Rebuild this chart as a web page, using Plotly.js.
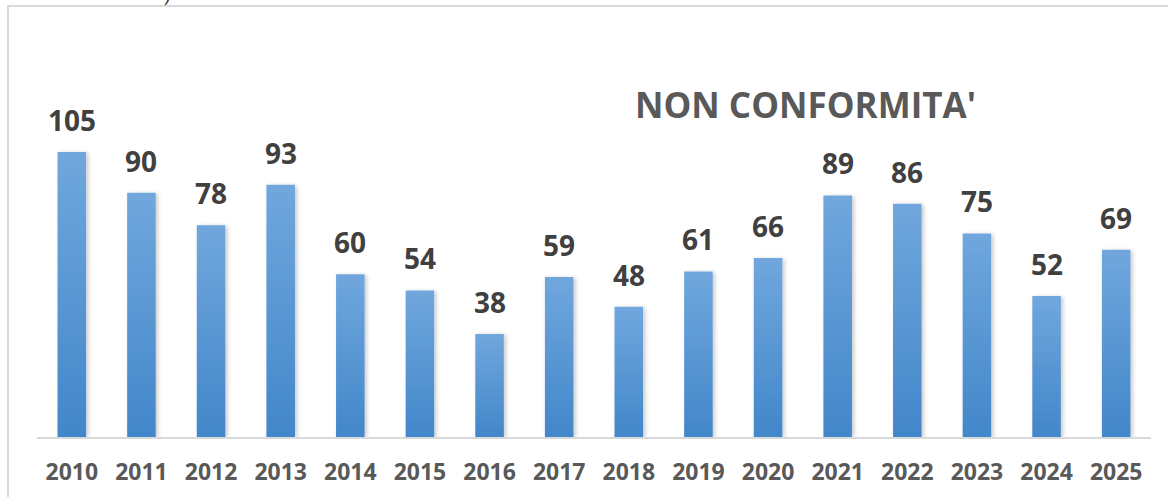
<!DOCTYPE html>
<html>
<head>
<meta charset="utf-8">
<script src="https://cdn.plot.ly/plotly-3.0.1.min.js"></script>
<style>
  html, body { margin: 0; padding: 0; background: #ffffff; }
  #wrap { position: relative; width: 1168px; height: 497px; overflow: hidden; }
  #frame { position: absolute; left: 7px; top: 5px; right: -4px; bottom: -4px;
           border-left: 2px solid #d9d9d9; border-top: 2px solid #d9d9d9; pointer-events: none; }
  #chart { position: absolute; left: 0; top: 0; width: 1168px; height: 497px; }
</style>
</head>
<body>
<div id="wrap">
  <div id="chart"></div>
  <div id="frame"></div>
</div>
<script>
const years = ["2010","2011","2012","2013","2014","2015","2016","2017","2018","2019","2020","2021","2022","2023","2024","2025"];
const values = [105, 90, 78, 93, 60, 54, 38, 59, 48, 61, 66, 89, 86, 75, 52, 69];
const chartTitle = "NON CONFORMITA'";
const cutText = ")";

const trace = {
  type: 'bar',
  x: years,
  y: values,
  marker: { color: '#5a9ad6', line: { width: 0 } },
  hoverinfo: 'x+y'
};

// category index positions (numeric-looking strings would be read as indices)
const annotations = years.map((yr, i) => ({
  x: i, y: values[i], xref: 'x', yref: 'y',
  text: String(values[i]),
  showarrow: false, yanchor: 'bottom', yshift: 11,
  font: { family: 'Open Sans, sans-serif', size: 28, color: '#404040', weight: 'bold' }
}));

annotations.push({
  xref: 'paper', yref: 'paper', x: 0.69, y: 1.0, yshift: -64,
  text: chartTitle, showarrow: false, xanchor: 'center', yanchor: 'middle',
  font: { family: 'Open Sans, sans-serif', size: 35, color: '#595959', weight: 'bold' }
});

annotations.push({
  xref: 'paper', yref: 'paper', x: 0.1167, y: 1.0, yshift: 31,
  text: cutText, showarrow: false, xanchor: 'center', yanchor: 'bottom',
  font: { family: 'DejaVu Sans, sans-serif', size: 16, color: '#333333', style: 'italic' }
});

const layout = {
  width: 1168, height: 497,
  margin: { l: 37, r: 17, t: 40, b: 60, pad: 0 },
  paper_bgcolor: 'rgba(0,0,0,0)',
  plot_bgcolor: 'rgba(0,0,0,0)',
  bargap: 0.59,
  showlegend: false,
  xaxis: {
    type: 'category',
    range: [-0.5, years.length - 0.5],
    showgrid: false, zeroline: false,
    showline: true, linecolor: '#d9d9d9', linewidth: 2,
    ticks: '', ticklabelstandoff: 13,
    tickfont: { family: 'Open Sans, sans-serif', size: 23, color: '#595959', weight: 'bold' }
  },
  yaxis: {
    range: [0, 146.3],
    visible: false, showgrid: false, zeroline: false, fixedrange: true
  },
  annotations: annotations
};

Plotly.newPlot('chart', [trace], layout, { displayModeBar: false, staticPlot: true }).then(gd => {
  const svg = gd.querySelector('svg.main-svg');
  const ns = 'http://www.w3.org/2000/svg';
  let defs = svg.querySelector('defs');
  if (!defs) { defs = document.createElementNS(ns, 'defs'); svg.insertBefore(defs, svg.firstChild); }
  const grad = document.createElementNS(ns, 'linearGradient');
  grad.setAttribute('id', 'barGrad');
  grad.setAttribute('x1', '0'); grad.setAttribute('y1', '0');
  grad.setAttribute('x2', '0'); grad.setAttribute('y2', '1');
  [['0%', '#70a7dd'], ['100%', '#4287ca']].forEach(([o, c]) => {
    const s = document.createElementNS(ns, 'stop');
    s.setAttribute('offset', o); s.setAttribute('stop-color', c);
    grad.appendChild(s);
  });
  defs.appendChild(grad);
  const filt = document.createElementNS(ns, 'filter');
  filt.setAttribute('id', 'barShadow');
  filt.setAttribute('x', '-30%'); filt.setAttribute('y', '-10%');
  filt.setAttribute('width', '160%'); filt.setAttribute('height', '120%');
  filt.innerHTML = '<feDropShadow dx="2" dy="1" stdDeviation="2" flood-color="#000" flood-opacity="0.22"/>';
  defs.appendChild(filt);
  gd.querySelectorAll('.bars .point path').forEach(p => {
    p.style.fill = 'url(#barGrad)';
    p.setAttribute('filter', 'url(#barShadow)');
  });
});
</script>
</body>
</html>
